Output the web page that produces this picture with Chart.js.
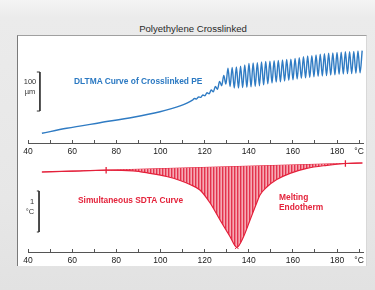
<!DOCTYPE html>
<html><head><meta charset="utf-8">
<script src="https://cdn.jsdelivr.net/npm/chart.js@4.4.0/dist/chart.umd.min.js"></script>
<style>
html,body{margin:0;padding:0;}
body{width:375px;height:290px;overflow:hidden;position:relative;background:linear-gradient(#f4f4f4 0px,#ebebeb 18px,#e7e7e7 200px,#e2e2e2 290px);font-family:'Liberation Sans',Arial,sans-serif;}
#panel{position:absolute;left:17px;top:35px;width:348px;height:230px;background:#fff;border-left:1px solid #7a7a7a;border-top:1px solid #a0a0a0;border-right:1px solid #d8d8d8;}
.t{position:absolute;white-space:nowrap;line-height:10px;transform:translateY(-50%);}
.w{position:absolute;left:0;width:375px;}
</style></head><body>
<div id="panel"></div>
<div class="t" style="left:0;width:386px;text-align:center;top:29px;font-size:9.6px;color:#2a2a2a">Polyethylene Crosslinked</div>
<div class="w" style="top:0;height:160px"><canvas id="c1"></canvas></div>
<div class="w" style="top:150px;height:119px"><canvas id="c2"></canvas></div>
<div class="t" style="left:22px;width:16px;text-align:center;top:82px;font-size:7.5px;color:#333">100</div>
<div class="t" style="left:22px;width:16px;text-align:center;top:92px;font-size:7.5px;color:#333">µm</div>
<div class="t" style="left:74px;top:81px;font-size:8.4px;font-weight:bold;color:#2b79c2">DLTMA Curve of Crosslinked PE</div>
<div class="t" style="left:24px;width:16px;text-align:center;top:202px;font-size:7.5px;color:#333">1</div>
<div class="t" style="left:22px;width:16px;text-align:center;top:212px;font-size:7.5px;color:#333">°C</div>
<div class="t" style="left:78px;top:200px;font-size:8.4px;font-weight:bold;color:#e4243c">Simultaneous SDTA Curve</div>
<div class="t" style="left:279px;top:197px;font-size:8.4px;font-weight:bold;color:#e4243c">Melting</div>
<div class="t" style="left:279px;top:207px;font-size:8.4px;font-weight:bold;color:#e4243c">Endotherm</div>
<script>
// ---- data ----
const tickTemps = [40, 60, 80, 100, 120, 140, 160, 180];
const unitTickTemp = 190;
const unitLabel = '°C';

const dltmaTemp = [46.3, 57.5, 72.6, 87.7, 99.8, 105.0, 108.9, 112.0, 114.5,
  115.4, 116.35, 117.3, 118.25, 119.2, 120.15, 121.1, 122.05, 123.0, 123.95, 124.9, 125.85, 126.8, 127.75, 128.7, 129.65,
  130.6, 131.55, 132.5, 133.45, 134.4, 135.35, 136.3, 137.25, 138.2, 139.15, 140.1, 141.05, 142.0, 142.95, 143.9, 144.85,
  145.8, 146.75, 147.7, 148.65, 149.6, 150.55, 151.5, 152.45, 153.4, 154.35, 155.3, 156.25, 157.2, 158.15, 159.1, 160.05,
  161.0, 161.95, 162.9, 163.85, 164.8, 165.75, 166.7, 167.65, 168.6, 169.55, 170.5, 171.45, 172.4, 173.35, 174.3, 175.25,
  176.2, 177.15, 178.1, 179.05, 180.0, 180.95, 181.9, 182.85, 183.8, 184.75, 185.7, 186.65, 187.6, 188.55, 189.5, 190.45, 191.4];
const dltmaValue = [0, 12.7, 27, 41, 55, 63, 70, 77, 85,
  89, 88, 93, 92, 98, 96, 104, 101, 111, 106, 120, 113, 133, 122, 148, 126,
  167, 120, 169, 116, 170, 116, 172, 117, 175, 118, 179, 119, 180, 120, 181, 122,
  183, 124, 184, 127, 185, 129, 186, 131, 187, 132, 188, 134, 189, 136, 190, 137,
  192, 139, 194, 141, 196, 142, 198, 143, 199, 145, 201, 146, 203, 147, 204, 148,
  205, 149, 206, 150, 207, 151, 208, 152, 209, 153, 209, 153, 210, 154, 211, 155, 212];
const umBar = [57, 157];       // 100 µm scale bar

const sdtaTemp = [46.3, 60, 75.4, 87.6, 95.3, 102.8, 108.9, 113.4, 117.9, 122.5, 127.0, 131.5, 134.6,
  137.6, 140.6, 143.6, 145.1, 148.2, 152.7, 158.7, 166.3, 175.4, 183.8, 191.5];
const sdtaValue = [0, 0.021, 0.044, 0.03, -0.032, -0.11, -0.207, -0.305, -0.439, -0.756, -1.171, -1.573, -1.837,
  -1.585, -1.171, -0.756, -0.561, -0.366, -0.183, -0.032, 0.09, 0.163, 0.208, 0.22];
const baseTemp = [46.3, 191.5];
const baseValue = [0, 0.22];
const limitTemp = [75.4, 183.8];
const limitValue = [0.044, 0.208];
const peakTemp = [134.6];
const peakValue = [-1.837];
const degBar = [-1.463, -0.463];  // 1 °C scale bar

// ---- chart setup ----
Chart.defaults.font.family = "'Liberation Sans', Arial, sans-serif";
Chart.defaults.color = '#222';

const pts = (xs, ys) => xs.map((x, i) => ({x, y: ys[i]}));

function xScale() {
  return {
    type: 'linear', min: 40, max: 192, position: 'bottom',
    afterFit: s => { s.height = 17; },
    border: {display: true, color: '#555', width: 1},
    grid: {display: true, drawOnChartArea: false, drawTicks: true, tickLength: -3, color: '#555', lineWidth: 1},
    ticks: {
      stepSize: 10, includeBounds: false, autoSkip: false, maxRotation: 0, minRotation: 0, padding: 7,
      color: '#1a1a1a', font: {size: 8.5},
      callback: v => v === unitTickTemp ? unitLabel : (tickTemps.includes(v) ? String(v) : '')
    }
  };
}
const common = {
  responsive: true, maintainAspectRatio: false, animation: false,
  plugins: {legend: {display: false}, tooltip: {enabled: false}, title: {display: false}},
  elements: {point: {radius: 0}}
};

const barX1 = 45.4, barX0 = 44.0;
new Chart(document.getElementById('c1'), {
  type: 'line',
  data: {datasets: [
    {data: pts(dltmaTemp, dltmaValue), borderColor: '#2f7bc3', borderWidth: 1.4, cubicInterpolationMode: 'monotone', pointRadius: 0},
    {data: [{x: barX0, y: umBar[1]}, {x: barX1, y: umBar[1]}, {x: barX1, y: umBar[0]}, {x: barX0, y: umBar[0]}],
      borderColor: '#333', borderWidth: 1, tension: 0, pointRadius: 0}
  ]},
  options: Object.assign({}, common, {
    layout: {padding: {left: 28, right: 11.5, top: 36, bottom: 0}},
    scales: {x: xScale(), y: {display: false, min: -25, max: 249.4}}
  })
});

// hatch pattern for the endotherm area
const pc = document.createElement('canvas');
pc.width = 3; pc.height = 1;
const pctx = pc.getContext('2d');
['#e3334d', '#ef7b8c', '#f6aab4'].forEach((c, i) => { pctx.fillStyle = c; pctx.fillRect(i, 0, 1, 1); });
const ctx2 = document.getElementById('c2').getContext('2d');
const hatch = ctx2.createPattern(pc, 'repeat');

const limitSets = limitTemp.map((t, i) => ({
  data: [{x: t, y: limitValue[i] - 0.08}, {x: t, y: limitValue[i] + 0.08}],
  borderColor: '#e4203a', borderWidth: 1.3, pointRadius: 0, tension: 0
}));

new Chart(ctx2, {
  type: 'line',
  data: {datasets: [
    {data: pts(sdtaTemp, sdtaValue), borderColor: '#e4203a', borderWidth: 1.2, cubicInterpolationMode: 'monotone',
      pointRadius: 0, fill: {target: 1}, backgroundColor: hatch},
    {data: pts(baseTemp, baseValue), borderColor: '#e4203a', borderWidth: 1, pointRadius: 0, tension: 0, fill: false},
    ...limitSets,
    {data: pts(peakTemp, peakValue), showLine: false, pointStyle: 'crossRot', pointRadius: 2.5,
      pointBorderColor: '#e4203a', pointBorderWidth: 1},
    {data: [{x: barX0, y: degBar[1]}, {x: 45.0, y: degBar[1]}, {x: 45.0, y: degBar[0]}, {x: barX0, y: degBar[0]}],
      borderColor: '#333', borderWidth: 1, tension: 0, pointRadius: 0}
  ]},
  options: Object.assign({}, common, {
    layout: {padding: {left: 28, right: 11.5, top: 7, bottom: 0}},
    scales: {x: xScale(), y: {display: false, min: -1.951, max: 0.366}}
  })
});
</script>
</body></html>
